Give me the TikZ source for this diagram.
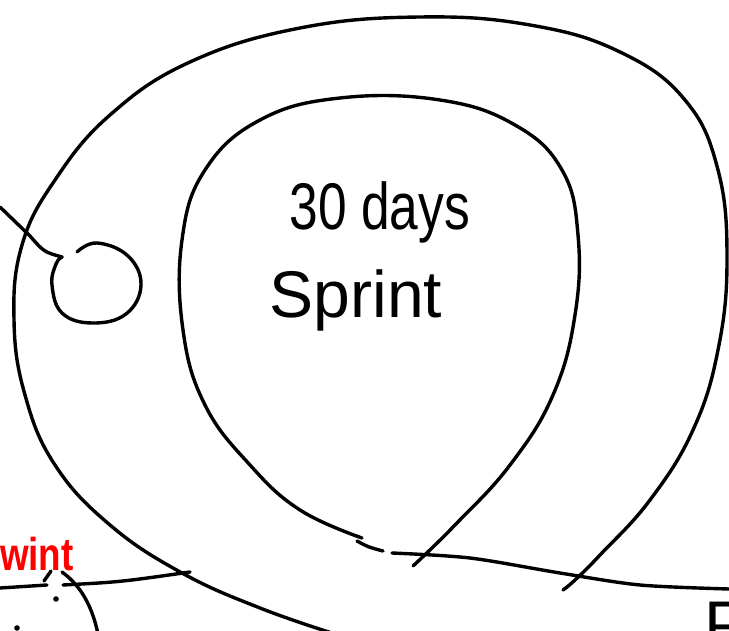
\documentclass[tikz,border=0pt]{standalone}
\usepackage{fontspec}
\setmainfont{Liberation Sans}
\begin{document}
\begin{tikzpicture}[x=1pt, y=-1pt, line cap=round, line join=round,
    sketch/.style={line width=3.4pt, black},
    every node/.style={inner sep=0pt, outer sep=0pt}]
  \useasboundingbox (0,0) rectangle (729,631);
  \clip (0,0) rectangle (729,631);
  % outer loop
  \draw[sketch] plot[smooth, tension=0.7] coordinates {(335,634) (260,608) (182,573) (110,525) (55,465) (25,395) (14,320) (22,245) (55,180) (110,115) (190,62) (300,28) (420,17) (530,25) (620,52) (685,100) (718,170) (727,260) (718,350) (693,430) (650,500) (600,555) (575,580) (563,590)};
  % inner loop
  \draw[sketch] plot[smooth, tension=0.7] coordinates {(413,566) (455,525) (510,465) (553,395) (575,315) (578,235) (562,170) (515,125) (440,100) (340,98) (260,120) (205,170) (182,240) (183,330) (205,405) (250,465) (300,510) (362,538)};
  % ground lines
  \draw[sketch] (357,541) .. controls (368,547) .. (383,551);
  \draw[sketch] plot[smooth] coordinates {(392,553) (470,558) (560,573) (640,585) (729,589)};
  \draw[sketch] (0,588) -- (47,585);
  \draw[sketch] (63,585) .. controls (120,582) .. (190,572);
  % small ring with its lead
  \draw[sketch] plot[smooth, tension=0.7] coordinates {(77,252) (97,243) (128,256) (141,285) (126,314) (92,323) (62,313) (52,285) (56,264) (62,257)};
  \coordinate (ringend) at (62,257);
  \coordinate (lead) at (0,207);
  \draw[sketch] (lead) -- (30,236) .. controls (44,252) .. (ringend);
  % labels
  \node[anchor=base, xscale=0.78, font=\fontsize{66}{70}\selectfont] (days) at (380,230) {30 days};
  \node[anchor=base, font=\fontsize{66}{70}\selectfont] (sprint) at (356,318) {Sprint};
  \node[anchor=base west, xscale=0.8, red, font=\fontsize{46}{50}\selectfont\bfseries] (wint) at (0,570) {wint};
  \node[anchor=base west, font=\fontsize{66}{70}\selectfont] (pmark) at (704,647) {P};
  % bottom left scrap
  \draw[sketch] (44,581) -- (51,571);
  \draw[sketch] (62,572) .. controls (80,585) and (92,605) .. (98,634);
  \fill (56,599) circle (2.8); \fill (17,628) circle (2.8);
\end{tikzpicture}
\end{document}
